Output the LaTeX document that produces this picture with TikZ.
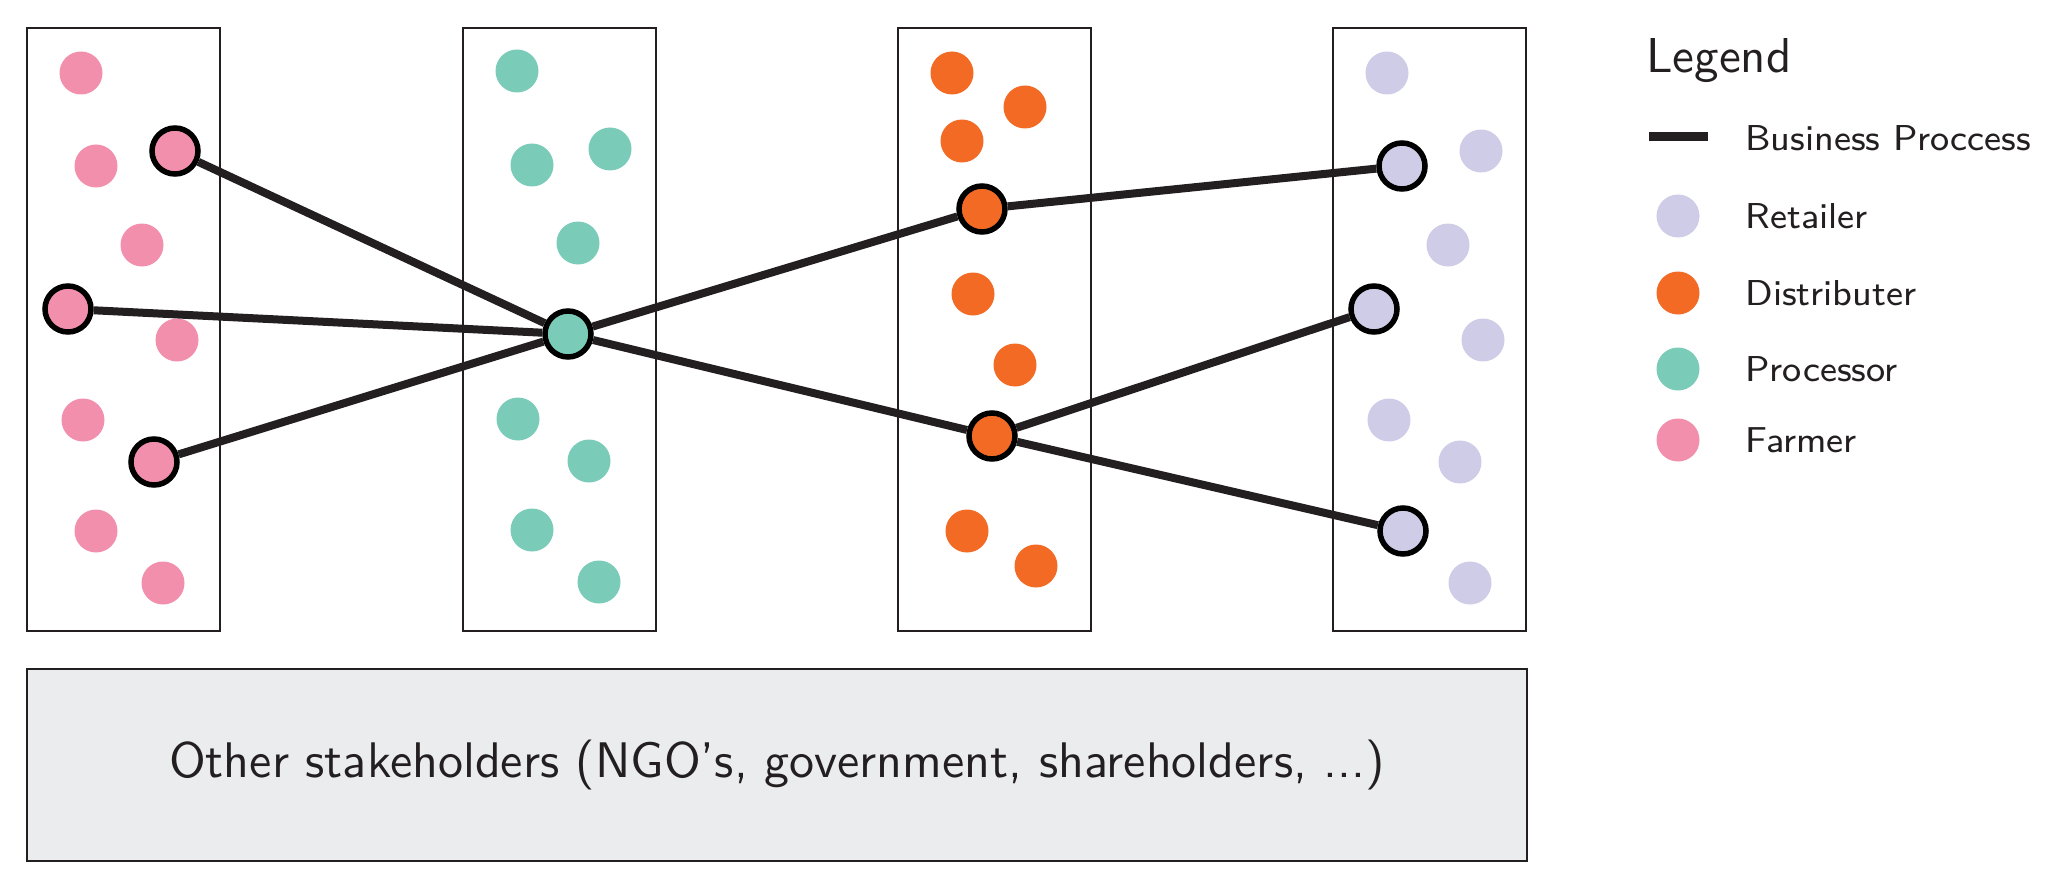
\documentclass[tikz,border=0pt]{standalone}
\usepackage{fontspec}
\newfontfamily\itemfont{lmsans8-regular.otf}
\newfontfamily\titlefont{lmsans10-regular.otf}
\newfontfamily\otherfont{lmsans10-regular.otf}
\definecolor{farm}{HTML}{F28FAD}
\definecolor{proc}{HTML}{7ACBB8}
\definecolor{dist}{HTML}{F26A24}
\definecolor{reta}{HTML}{CECCE6}
\definecolor{ink}{HTML}{231F20}
\definecolor{otherfill}{HTML}{EBECEE}
\begin{document}
\begin{tikzpicture}[x=0.5pt,y=-0.5pt,
  dot/.style={circle,inner sep=0pt,minimum size=21.5pt,fill=#1},
  key/.style={circle,inner sep=0pt,minimum size=23pt,fill=#1,draw=black,line width=2.75pt},
  grpbox/.style={draw=ink,line width=1pt,minimum width=96.5pt,minimum height=301.5pt,inner sep=0pt},
  flow/.style={draw=ink,line width=4pt},
  lbl/.style={anchor=base west,inner sep=0pt,font=\itemfont\fontsize{18}{22}\selectfont,text=ink}]
\useasboundingbox (0,0) rectangle (2052,883);
% group boxes
\node[grpbox] (b1) at (123.5,329.5) {};
\node[grpbox] (b2) at (559,329.5) {};
\node[grpbox] (b3) at (994,329.5) {};
\node[grpbox] (b4) at (1429,329.5) {};
% other stakeholders
\node[draw=ink,line width=1pt,fill=otherfill,minimum width=750pt,minimum height=96pt,inner sep=0pt,
  font=\otherfont\fontsize{25}{30}\selectfont,text=ink] (other) at (777,765)
  {Other stakeholders (NGO’s, government, shareholders, ...)};
% farmers
\node[dot=farm] (f1) at (81,73) {};
\node[key=farm] (f2) at (175,151) {};
\node[dot=farm] (f3) at (96,166) {};
\node[dot=farm] (f4) at (142,245) {};
\node[key=farm] (f5) at (68,309) {};
\node[dot=farm] (f6) at (177,340) {};
\node[dot=farm] (f7) at (83,420) {};
\node[key=farm] (f8) at (154,462) {};
\node[dot=farm] (f9) at (96,531) {};
\node[dot=farm] (f10) at (163,583) {};
% processors
\node[dot=proc] (p1) at (517,71) {};
\node[dot=proc] (p2) at (610,149) {};
\node[dot=proc] (p3) at (532,165) {};
\node[dot=proc] (p4) at (578,243) {};
\node[key=proc] (p5) at (568,334) {};
\node[dot=proc] (p6) at (518,419) {};
\node[dot=proc] (p7) at (589,461) {};
\node[dot=proc] (p8) at (532,530) {};
\node[dot=proc] (p9) at (599,582) {};
% distributers
\node[dot=dist] (d1) at (952,73) {};
\node[dot=dist] (d2) at (1025,107) {};
\node[dot=dist] (d3) at (962,141) {};
\node[key=dist] (d4) at (982,209) {};
\node[dot=dist] (d5) at (973,294) {};
\node[dot=dist] (d6) at (1015,365) {};
\node[key=dist] (d7) at (992,436) {};
\node[dot=dist] (d8) at (967,531) {};
\node[dot=dist] (d9) at (1036,566) {};
% retailers
\node[dot=reta] (r1) at (1387,73) {};
\node[dot=reta] (r2) at (1481,151) {};
\node[key=reta] (r3) at (1402,166) {};
\node[dot=reta] (r4) at (1448,245) {};
\node[key=reta] (r5) at (1374,309) {};
\node[dot=reta] (r6) at (1483,340) {};
\node[dot=reta] (r7) at (1389,420) {};
\node[dot=reta] (r8) at (1460,462) {};
\node[key=reta] (r9) at (1403,531) {};
\node[dot=reta] (r10) at (1470,583) {};
% business processes
\draw[flow] (f2) -- (p5);
\draw[flow] (f5) -- (p5);
\draw[flow] (f8) -- (p5);
\draw[flow] (p5) -- (d4);
\draw[flow] (p5) -- (d7);
\draw[flow] (d4) -- (r3);
\draw[flow] (d7) -- (r5);
\draw[flow] (d7) -- (r9);
% legend
\node[anchor=base west,inner sep=0pt,font=\titlefont\fontsize{24.5}{30}\selectfont,text=ink] (lt) at (1646,73) {Legend};
\coordinate (ls) at (1649,137);
\coordinate (le) at (1708,137);
\draw[ink,line width=4.5pt] (ls) -- (le);
\node[lbl] (l0) at (1745,151) {Business Proccess};
\node[dot=reta] (k1) at (1678,216) {};
\node[lbl] (l1) at (1745,228) {Retailer};
\node[dot=dist] (k2) at (1678,293) {};
\node[lbl] (l2) at (1745,305) {Distributer};
\node[dot=proc] (k3) at (1678,369) {};
\node[lbl] (l3) at (1745,381) {Processor};
\node[dot=farm] (k4) at (1678,440) {};
\node[lbl] (l4) at (1745,452) {Farmer};
\end{tikzpicture}
\end{document}
